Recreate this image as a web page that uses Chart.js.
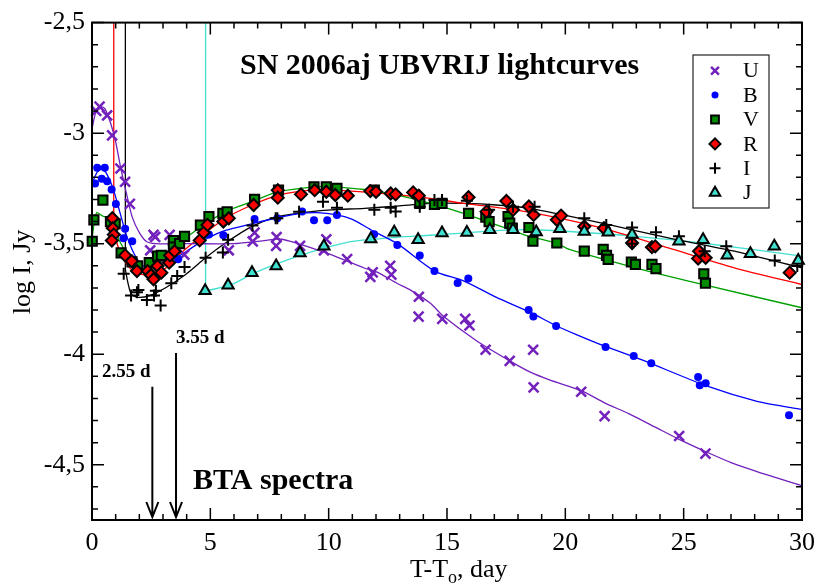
<!DOCTYPE html>
<html>
<head>
<meta charset="utf-8">
<script src="https://cdn.jsdelivr.net/npm/chart.js@4.4.1/dist/chart.umd.min.js"></script>
<style>
  html, body { margin: 0; padding: 0; background: #fff; }
</style>
</head>
<body>
<canvas id="lc" width="823" height="585"></canvas>
<script>
const bands = ['U', 'B', 'V', 'R', 'I', 'J'];

// observed points: [T-To (day), log I (Jy)]
const obsU = [[0.18,-2.90],[0.32,-2.88],[0.64,-2.92],[0.85,-3.01],[1.20,-3.16],[1.40,-3.22],[1.60,-3.32],
  [2.46,-3.53],[2.60,-3.46],[2.67,-3.47],[3.28,-3.46],[3.90,-3.55],[5.78,-3.53],[6.79,-3.49],[6.87,-3.45],
  [7.78,-3.51],[7.80,-3.47],[8.79,-3.51],[9.80,-3.53],[9.90,-3.48],[10.78,-3.57],[11.76,-3.65],[11.86,-3.63],
  [12.60,-3.60],[12.65,-3.64],[13.81,-3.74],[13.80,-3.83],[14.80,-3.84],[15.77,-3.84],[15.95,-3.87],
  [16.63,-3.98],[17.65,-4.03],[18.64,-3.98],[18.66,-4.15],[20.67,-4.17],[21.66,-4.28],[24.81,-4.37],[25.92,-4.45]];
const obsB = [[0.13,-3.228],[0.22,-3.157],[0.54,-3.157],[0.41,-3.206],[0.64,-3.218],[0.83,-3.255],[1.01,-3.321],
  [1.40,-3.432],[1.33,-3.476],[1.70,-3.489],[3.64,-3.571],[4.94,-3.459],[5.55,-3.462],[6.87,-3.388],[7.83,-3.385],
  [8.88,-3.355],[9.38,-3.394],[9.94,-3.394],[10.35,-3.370],[11.92,-3.457],[12.90,-3.506],[13.85,-3.553],
  [14.47,-3.624],[15.45,-3.678],[15.90,-3.658],[18.45,-3.800],[18.65,-3.829],[19.61,-3.873],[21.70,-3.967],
  [22.89,-4.008],[23.63,-4.041],[25.61,-4.103],[25.68,-4.141],[25.93,-4.131],[29.45,-4.276]];
const obsV = [[0.01,-3.489],[0.08,-3.392],[0.46,-3.303],[0.78,-3.400],[0.98,-3.410],[1.23,-3.542],[1.69,-3.582],
  [1.93,-3.600],[2.42,-3.586],[2.77,-3.556],[2.93,-3.553],[3.44,-3.486],[3.44,-3.515],[3.70,-3.500],[3.91,-3.467],
  [4.58,-3.416],[4.94,-3.377],[5.53,-3.363],[5.71,-3.356],[6.87,-3.300],[7.88,-3.258],[9.38,-3.243],[9.90,-3.243],
  [10.35,-3.250],[11.93,-3.258],[13.85,-3.318],[14.47,-3.322],[14.79,-3.318],[15.91,-3.363],[16.64,-3.380],
  [16.78,-3.400],[17.58,-3.377],[17.65,-3.407],[17.76,-3.430],[18.46,-3.427],[18.63,-3.489],[19.64,-3.497],
  [20.80,-3.534],[21.60,-3.526],[21.74,-3.553],[21.81,-3.571],[22.79,-3.583],[22.96,-3.594],[23.66,-3.594],
  [23.83,-3.613],[25.85,-3.636],[25.92,-3.679]];
const obsR = [[0.86,-3.385],[0.88,-3.430],[0.92,-3.459],[0.84,-3.486],[1.40,-3.553],[1.68,-3.579],[1.90,-3.624],
  [2.35,-3.624],[2.49,-3.643],[2.60,-3.661],[2.77,-3.601],[2.93,-3.631],[3.26,-3.586],[3.30,-3.553],[3.49,-3.534],
  [4.55,-3.485],[4.72,-3.450],[4.88,-3.415],[5.55,-3.400],[5.78,-3.385],[6.83,-3.325],[7.85,-3.258],[7.85,-3.292],
  [8.83,-3.277],[9.41,-3.258],[9.90,-3.265],[10.28,-3.280],[10.81,-3.283],[11.76,-3.262],[12.00,-3.265],
  [12.62,-3.273],[12.83,-3.277],[13.57,-3.268],[13.81,-3.283],[15.91,-3.290],[16.67,-3.355],[17.51,-3.307],
  [17.79,-3.347],[18.46,-3.332],[18.66,-3.370],[19.64,-3.392],[19.82,-3.373],[20.80,-3.422],[21.63,-3.430],
  [22.82,-3.497],[23.66,-3.516],[23.80,-3.512],[25.61,-3.567],[25.65,-3.534],[25.93,-3.564],[29.48,-3.631]];
const obsI = [[1.34,-3.636],[1.65,-3.735],[1.90,-3.720],[1.96,-3.710],[2.32,-3.755],[2.62,-3.735],[2.70,-3.713],
  [2.90,-3.780],[3.35,-3.679],[3.60,-3.646],[3.91,-3.606],[4.80,-3.564],[5.53,-3.540],[5.75,-3.482],[6.78,-3.418],
  [7.76,-3.385],[7.83,-3.385],[8.75,-3.356],[9.76,-3.310],[10.35,-3.337],[11.93,-3.347],[12.62,-3.337],
  [12.83,-3.355],[13.85,-3.333],[14.47,-3.303],[14.79,-3.303],[15.84,-3.306],[16.78,-3.347],[17.79,-3.333],
  [18.70,-3.333],[20.80,-3.385],[21.73,-3.415],[22.82,-3.427],[22.82,-3.500],[23.83,-3.448],[24.80,-3.467],
  [25.89,-3.534],[26.80,-3.512],[28.85,-3.576],[29.80,-3.601]];
const obsJ = [[4.78,-3.713],[5.75,-3.688],[6.76,-3.631],[7.78,-3.601],[8.79,-3.542],[9.80,-3.512],[11.78,-3.479],
  [12.77,-3.448],[13.78,-3.482],[14.79,-3.452],[15.84,-3.449],[16.81,-3.437],[17.79,-3.437],[18.77,-3.447],
  [19.77,-3.432],[20.80,-3.445],[21.81,-3.448],[22.82,-3.459],[24.80,-3.489],[25.82,-3.482],[26.84,-3.552],
  [27.82,-3.546],[28.83,-3.512],[29.84,-3.576]];

// fitted light curves
const fitU = [[0,-2.98],[0.15,-2.91],[0.35,-2.88],[0.55,-2.89],[0.8,-2.96],[1.0,-3.04],[1.2,-3.15],[1.45,-3.27],
  [1.7,-3.38],[2.0,-3.45],[2.3,-3.49],[2.7,-3.50],[4,-3.50],[6,-3.50],[7,-3.49],[8,-3.48],[8.7,-3.50],[9.3,-3.52],
  [10.1,-3.55],[11.5,-3.61],[12.07,-3.63],[12.9,-3.68],[13.46,-3.71],[14.3,-3.77],[14.86,-3.83],[16.26,-3.94],
  [17.65,-4.03],[18.5,-4.08],[19.33,-4.116],[20.67,-4.165],[21.66,-4.22],[22.7,-4.27],[23.8,-4.33],[24.81,-4.385],
  [25.92,-4.44],[27,-4.49],[28.5,-4.545],[30,-4.595]];
const fitB = [[0,-3.23],[0.2,-3.18],[0.4,-3.16],[0.6,-3.18],[0.89,-3.25],[1.17,-3.355],[1.45,-3.46],[1.8,-3.55],
  [2.15,-3.60],[2.5,-3.605],[2.9,-3.59],[3.69,-3.555],[4.2,-3.52],[4.8,-3.48],[5.64,-3.44],[6.76,-3.41],
  [7.74,-3.385],[8.7,-3.365],[9.5,-3.36],[10.35,-3.37],[11.0,-3.39],[11.78,-3.437],[12.9,-3.50],[14.47,-3.624],
  [15.7,-3.668],[17.09,-3.743],[18.5,-3.81],[19.6,-3.87],[20.44,-3.91],[21.7,-3.965],[23.24,-4.026],
  [26.03,-4.146],[28.1,-4.213],[30,-4.25]];
const fitV = [[0,-3.48],[0.1,-3.40],[0.2,-3.36],[0.45,-3.375],[0.75,-3.39],[1.17,-3.489],[1.59,-3.564],
  [2.01,-3.60],[2.43,-3.60],[2.99,-3.564],[3.69,-3.497],[4.52,-3.43],[5.64,-3.355],[6.76,-3.31],[7.88,-3.265],
  [9.41,-3.243],[10.11,-3.243],[11.51,-3.255],[12.9,-3.28],[14.3,-3.318],[15.7,-3.363],[17.09,-3.415],
  [18.49,-3.467],[19.61,-3.497],[20.17,-3.526],[22.96,-3.609],[25.75,-3.683],[30,-3.79]];
const fitR = [[0.92,-2.3],[0.92,-3.39],[0.925,-3.40],[1.03,-3.489],[1.31,-3.564],[1.59,-3.609],[2.01,-3.638],
  [2.71,-3.638],[3.13,-3.609],[3.69,-3.549],[4.52,-3.474],[5.64,-3.385],[6.76,-3.325],[7.88,-3.28],[9.27,-3.258],
  [10.11,-3.258],[12.0,-3.27],[14.3,-3.295],[15.7,-3.318],[17.0,-3.335],[18.6,-3.36],[21.56,-3.43],[24.35,-3.519],
  [27.14,-3.609],[30,-3.685]];
const fitI = [[1.41,-2.3],[1.41,-3.61],[1.415,-3.62],[1.53,-3.683],[1.66,-3.728],[1.94,-3.743],[2.43,-3.735],
  [3.13,-3.698],[3.97,-3.638],[4.80,-3.564],[5.64,-3.497],[6.76,-3.422],[7.88,-3.377],[9.27,-3.355],[10.11,-3.347],
  [11.51,-3.34],[12.9,-3.33],[14.3,-3.318],[15.7,-3.318],[17.09,-3.325],[18.49,-3.34],[21.56,-3.407],
  [24.35,-3.474],[27.14,-3.534],[30,-3.61]];
const fitJ = [[4.8,-2.3],[4.8,-3.705],[4.81,-3.713],[5.92,-3.683],[6.76,-3.638],[7.74,-3.594],[8.71,-3.556],
  [9.83,-3.52],[11.0,-3.49],[12.9,-3.471],[14.3,-3.462],[15.7,-3.452],[17.09,-3.441],[18.49,-3.437],[20.17,-3.445],
  [22.96,-3.467],[25.75,-3.497],[30,-3.556]];

const xTicks = [0, 5, 10, 15, 20, 25, 30];
const yTicks = [-4.5, -4, -3.5, -3, -2.5];
const yTickLabels = ['-4,5', '-4', '-3,5', '-3', '-2,5'];
const spectraDays = [2.55, 3.55];
const spectraLabels = ['2.55 d', '3.55 d'];

const obs = { U: obsU, B: obsB, V: obsV, R: obsR, I: obsI, J: obsJ };
const fits = { U: fitU, B: fitB, V: fitV, R: fitR, I: fitI, J: fitJ };

const SERIF = "'Liberation Serif', 'Times New Roman', serif";

const look = {
  U: { line: '#7221bc', pointStyle: 'crossRot', radius: 7, fill: '#7221bc', edge: '#7221bc', bw: 2.5, legR: 5.5 },
  B: { line: '#0000ff', pointStyle: 'circle', radius: 4, fill: '#0000ff', edge: '#0000ff', bw: 0, legR: 3.5 },
  V: { line: '#00a000', pointStyle: 'rect', radius: 6.5, fill: '#008b00', edge: '#000', bw: 2, legR: 5.5 },
  R: { line: '#ff0000', pointStyle: 'rectRot', radius: 6, fill: '#ff0000', edge: '#000', bw: 2, legR: 5.5 },
  I: { line: '#000000', pointStyle: 'cross', radius: 6, fill: '#000', edge: '#000', bw: 2, legR: 5.5 },
  J: { line: '#40e0d0', pointStyle: 'triangle', radius: 6.5, fill: '#40e0d0', edge: '#000', bw: 2, legR: 6 }
};

const toXY = arr => arr.map(p => ({ x: p[0], y: p[1] }));

const datasets = [];
// markers first so they are painted above the curves
['J', 'I', 'R', 'V', 'B', 'U'].forEach(b => {
  const s = look[b];
  datasets.push({
    label: b,
    data: toXY(obs[b]),
    showLine: false,
    pointStyle: s.pointStyle,
    pointRadius: s.radius,
    pointBackgroundColor: s.fill,
    pointBorderColor: s.edge,
    pointBorderWidth: s.bw,
    clip: false
  });
});
bands.forEach(b => {
  datasets.push({
    label: b + ' fit',
    data: toXY(fits[b]),
    showLine: true,
    borderColor: look[b].line,
    borderWidth: 1.3,
    pointRadius: 0,
    tension: 0.25
  });
});

const decor = {
  id: 'decor',
  afterDraw(chart) {
    const { ctx, chartArea: a, scales } = chart;
    const xs = scales.x, ys = scales.y;
    ctx.save();

    // frame
    ctx.strokeStyle = '#000';
    ctx.lineWidth = 2;
    ctx.strokeRect(a.left, a.top, a.right - a.left, a.bottom - a.top);

    // inward ticks on all four sides
    ctx.lineWidth = 1.5;
    ctx.beginPath();
    for (let d = 0; d <= 30; d++) {
      const px = xs.getPixelForValue(d);
      const len = d % 5 === 0 ? 12 : 6;
      ctx.moveTo(px, a.bottom); ctx.lineTo(px, a.bottom - len);
      ctx.moveTo(px, a.top); ctx.lineTo(px, a.top + len);
    }
    for (let k = -47; k <= -25; k++) {
      const py = ys.getPixelForValue(k / 10);
      const len = k % 5 === 0 ? 12 : 6;
      ctx.moveTo(a.left, py); ctx.lineTo(a.left + len, py);
      ctx.moveTo(a.right, py); ctx.lineTo(a.right - len, py);
    }
    ctx.stroke();

    // axis titles
    ctx.fillStyle = '#000';
    ctx.textBaseline = 'alphabetic';
    ctx.font = '26px ' + SERIF;
    let tx = 410;
    const ty = 577;
    ctx.textAlign = 'left';
    ctx.fillText('T-T', tx, ty);
    tx += ctx.measureText('T-T').width;
    ctx.font = '18px ' + SERIF;
    ctx.fillText('o', tx, ty + 6);
    tx += ctx.measureText('o').width;
    ctx.font = '26px ' + SERIF;
    ctx.fillText(', day', tx, ty);

    ctx.save();
    ctx.translate(30, 272);
    ctx.rotate(-Math.PI / 2);
    ctx.textAlign = 'center';
    ctx.fillText('log I, Jy', 0, 0);
    ctx.restore();

    // title
    ctx.font = 'bold 30px ' + SERIF;
    ctx.textAlign = 'left';
    ctx.fillText('SN 2006aj UBVRIJ lightcurves', 240, 74);

    // spectra arrows
    const tops = [-4.147, -3.995];
    ctx.lineWidth = 2;
    spectraDays.forEach((d, i) => {
      const px = xs.getPixelForValue(d);
      const y0 = ys.getPixelForValue(tops[i]);
      const y1 = a.bottom - 3;
      ctx.beginPath();
      ctx.moveTo(px, y0); ctx.lineTo(px, y1);
      ctx.moveTo(px - 6, y1 - 15); ctx.lineTo(px, y1); ctx.lineTo(px + 6, y1 - 15);
      ctx.stroke();
    });
    ctx.font = 'bold 19px ' + SERIF;
    ctx.fillText(spectraLabels[0], 102, 377);
    ctx.fillText(spectraLabels[1], 176, 343);
    ctx.font = 'bold 30px ' + SERIF;
    ctx.fillText('BTA spectra', 193, 489);

    // legend
    const lx = 693, ly = 55, lw = 76, lh = 153;
    ctx.fillStyle = '#fff';
    ctx.fillRect(lx, ly, lw, lh);
    ctx.strokeStyle = '#222';
    ctx.lineWidth = 1.2;
    ctx.strokeRect(lx, ly, lw, lh);
    ctx.font = '22px ' + SERIF;
    bands.forEach((b, i) => {
      const s = look[b];
      const cy = 70.7 + i * 24.4;
      ctx.fillStyle = s.fill;
      ctx.strokeStyle = s.edge;
      ctx.lineWidth = s.bw || 1;
      Chart.helpers.drawPoint(ctx, { pointStyle: s.pointStyle, radius: s.legR, rotation: 0, borderWidth: s.bw }, 715, cy);
      ctx.fillStyle = '#000';
      ctx.textBaseline = 'middle';
      ctx.fillText(b, 743, cy + 1);
    });
    ctx.restore();
  }
};

new Chart(document.getElementById('lc'), {
  type: 'scatter',
  data: { datasets },
  options: {
    responsive: false,
    animation: false,
    devicePixelRatio: 1,
    layout: { padding: { top: 19, right: 16, left: 0, bottom: 0 } },
    plugins: { legend: { display: false }, tooltip: { enabled: false } },
    scales: {
      x: {
        type: 'linear', min: 0, max: 30,
        afterBuildTicks: s => { s.ticks = xTicks.map(v => ({ value: v })); },
        afterFit: s => { s.height = 65; },
        grid: { display: false, drawTicks: false },
        border: { display: false },
        ticks: { color: '#000', padding: 8, maxRotation: 0, font: { family: SERIF, size: 26 } }
      },
      y: {
        type: 'linear', min: -4.75, max: -2.5,
        afterBuildTicks: s => { s.ticks = yTicks.map(v => ({ value: v })); },
        afterFit: s => { s.width = 92; },
        grid: { display: false, drawTicks: false },
        border: { display: false },
        ticks: {
          color: '#000', padding: 7, font: { family: SERIF, size: 26 },
          callback: v => yTickLabels[yTicks.indexOf(v)]
        }
      }
    }
  },
  plugins: [decor]
});
</script>
</body>
</html>
